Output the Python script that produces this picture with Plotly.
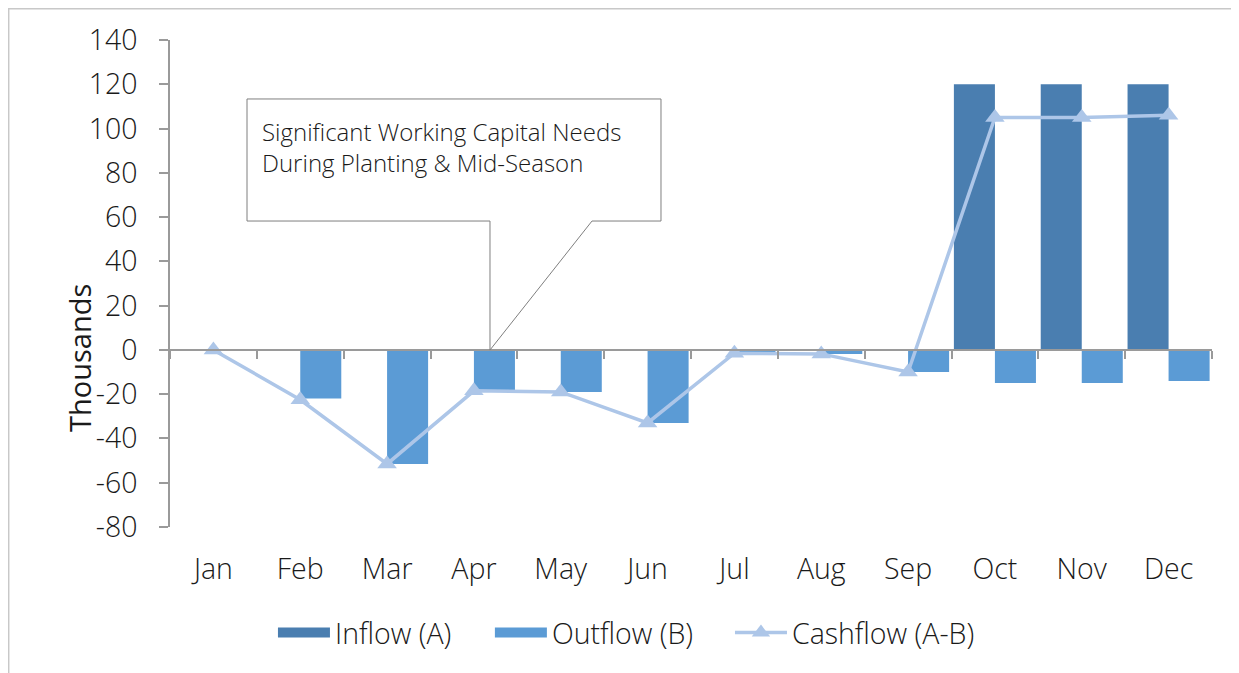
import plotly.graph_objects as go

months = ["Jan", "Feb", "Mar", "Apr", "May", "Jun", "Jul", "Aug", "Sep", "Oct", "Nov", "Dec"]
inflow = [0, 0, 0, 0, 0, 0, 0, 0, 0, 120, 120, 120]
outflow = [0, -22, -51.5, -18.5, -19, -33, -1.5, -1.8, -10, -15, -15, -14]
cashflow = [0, -22.5, -51.5, -18.5, -19, -33, -1.5, -1.8, -10, 105, 105, 106]
y_ticks = [140, 120, 100, 80, 60, 40, 20, 0, -20, -40, -60, -80]

FONT = "Open Sans"
TXT = "#1a1a1a"
AX = "#9a9a9a"
C_IN = '#4A7EB0'
C_OUT = '#5B9BD5'
C_CASH = '#ADC6E8'
FS = 28.5

fig = go.Figure()
fig.add_trace(go.Bar(x=months, y=inflow, name="Inflow (A)", showlegend=False,
                     marker={'color': C_IN, 'line': {'width': 0}}))
fig.add_trace(go.Bar(x=months, y=outflow, name="Outflow (B)", showlegend=False,
                     marker={'color': C_OUT, 'line': {'width': 0}}))
fig.add_trace(go.Scatter(x=months, y=cashflow, name="Cashflow (A-B)",
                         mode='lines+markers', legend='legend3',
                         line={'color': C_CASH, 'width': 3.5},
                         marker={'symbol': 'triangle-up', 'size': 17, 'color': C_CASH}))
# legend swatches for the bars (wide rectangles like the original)
fig.add_trace(go.Scatter(x=[None], y=[None], name="Inflow (A)", mode='lines',
                         line={'color': C_IN, 'width': 18}, legend='legend'))
fig.add_trace(go.Scatter(x=[None], y=[None], name="Outflow (B)", mode='lines',
                         line={'color': C_OUT, 'width': 18}, legend='legend2'))
# invisible trace so the zero-line axis with boundary ticks gets drawn
fig.add_trace(go.Scatter(x=months, y=[0] * len(months), xaxis='x2', mode='lines',
                         line={'width': 0}, showlegend=False, hoverinfo='skip'))

ymin, ymax = -80, 140
zero_pos = (0 - ymin) / (ymax - ymin)
tick_text = [str(v) for v in y_ticks]
x_range = [-0.5, len(months) - 0.5]

leg = {'orientation': 'h', 'xanchor': 'left', 'yanchor': 'middle', 'y': -0.2177,
       'font': {'size': FS, 'family': FONT, 'weight': 300, 'color': TXT},
       'itemwidth': 52, 'bgcolor': 'rgba(0,0,0,0)'}

fig.update_layout(
    barmode='group', bargap=0.055, bargroupgap=0,
    width=1223, height=665,
    paper_bgcolor='white', plot_bgcolor='white',
    font={'family': FONT, 'color': TXT, 'size': FS, 'weight': 300},
    margin={'l': 162, 'r': 19, 't': 32, 'b': 146, 'autoexpand': False},
    xaxis={'type': 'category', 'range': x_range, 'showline': False, 'ticks': '',
           'showgrid': False, 'zeroline': False, 'ticklabelstandoff': 22, 'automargin': False,
           'tickfont': {'size': FS, 'family': FONT, 'weight': 300}},
    xaxis2={'type': 'category', 'range': x_range, 'overlaying': 'x', 'anchor': 'free',
            'position': zero_pos, 'side': 'bottom', 'showline': True, 'linecolor': AX,
            'linewidth': 1.5, 'ticks': 'outside', 'tickson': 'boundaries', 'ticklen': 8,
            'tickcolor': AX, 'tickwidth': 1.5, 'showticklabels': False, 'showgrid': False,
            'zeroline': False, 'automargin': False},
    yaxis={'range': [ymin, ymax], 'tickvals': y_ticks, 'ticktext': tick_text,
           'showgrid': False, 'zeroline': False, 'automargin': False,
           'showline': True, 'linecolor': AX, 'linewidth': 1.5, 'ticks': 'outside',
           'ticklen': 9, 'tickcolor': AX, 'tickwidth': 1.5, 'ticklabelstandoff': 16,
           'tickfont': {'size': FS, 'family': FONT, 'weight': 300}},
    legend=dict(leg, x=0.0988),
    legend2=dict(leg, x=0.307),
    legend3=dict(leg, x=0.5374),
    showlegend=True,
)

# y axis title
fig.add_annotation(text="Thousands", xref='paper', yref='paper', x=-0.0873, y=0.347,
                   xanchor='center', yanchor='middle',
                   textangle=-90, showarrow=False,
                   font={'size': 29, 'family': FONT, 'weight': 400, 'color': TXT})

# callout box
fig.add_shape(type='path', xref='paper', yref='paper',
              path="M 0.4050 0.6283 L 0.4712 0.6283 L 0.4712 0.8789 L 0.0739 0.8789 "
                   "L 0.0739 0.6283 L 0.3071 0.6283 L 0.3071 0.3634 Z",
              line={'color': '#7f7f7f', 'width': 1}, fillcolor='white', layer='above')
fig.add_annotation(text="Significant Working Capital Needs<br>During Planting & Mid-Season",
                   xref='paper', yref='paper', x=0.0864, y=0.851, xanchor='left', yanchor='top',
                   align='left', showarrow=False,
                   font={'size': 24, 'family': FONT, 'weight': 300, 'color': TXT})

# outer chart border (top and left edges visible in the crop)
fig.add_shape(type='path', xref='paper', yref='paper',
              path="M 1.2 1.0642 L -0.1548 1.0642 L -0.1548 -0.32",
              line={'color': '#c8c8c8', 'width': 1.5}, layer='below')

fig.write_html("out.html")
